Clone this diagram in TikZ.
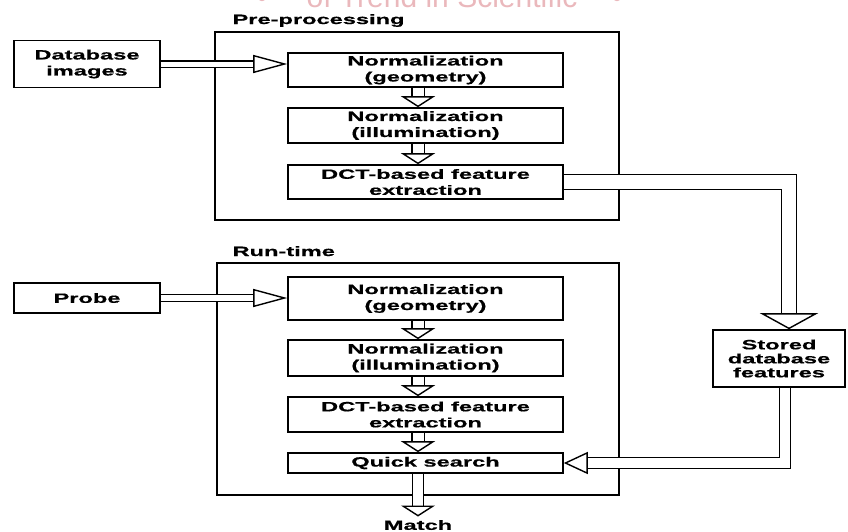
\documentclass[tikz,border=0pt]{standalone}
\usepackage{fontspec}
\newfontfamily\diagfont{Liberation Sans Bold}[FakeStretch=1.75, FakeBold=0.6]
\newfontfamily\markfont{Liberation Sans}
\newcommand\boxfont{\fontsize{13.5}{16}\selectfont\diagfont}
\usetikzlibrary{arrows.meta, positioning}
\definecolor{markpink}{RGB}{234,184,188}

\tikzset{
	stage/.style={draw, line width=1.6pt, align=center, inner sep=0pt, font=\boxfont},
	panel/.style={draw, line width=1.8pt, inner sep=0pt},
	pipe/.style={double, double distance=#1, line width=1.4pt},
	sidehead/.style={-{Triangle[open, length=34pt, width=18pt, line width=1.4pt]}},
	downhead/.style={-{Triangle[open, length=11pt, width=34pt, line width=1.4pt]}}
}

\begin{document}
\begin{tikzpicture}[x=1pt, y=-1pt]
	\useasboundingbox (0,0) rectangle (848,531);

	% faint watermark, cut by the top edge
	\node[text=markpink, font=\markfont\fontsize{30}{30}\selectfont, anchor=base] (mark) at (442,7) {of Trend in Scientific};
	\node[text=markpink, font=\markfont\fontsize{30}{30}\selectfont, anchor=base] (markl) at (262,7) {•};
	\node[text=markpink, font=\markfont\fontsize{30}{30}\selectfont, anchor=base] (markr) at (617,7) {•};

	% the two stages
	\node[panel, minimum width=404pt, minimum height=188pt] (pre) at (417,126) {};
	\node[panel, minimum width=402pt, minimum height=232pt] (run) at (418,379) {};
	\node[anchor=base west, font=\boxfont] (prelabel) at (229,24) {Pre-processing};
	\node[anchor=base west, font=\boxfont] (runlabel) at (229,256) {Run-time};

	% pre-processing chain
	\node[stage, minimum width=146pt, minimum height=47pt] (dbimg) at (87,64) {Database\\images};
	\node[stage, minimum width=275pt, minimum height=34pt] (pgeo) at (425.5,70) {Normalization\\(geometry)};
	\node[stage, minimum width=275pt, minimum height=35pt] (pill) at (425.5,125.5) {Normalization\\(illumination)};
	\node[stage, minimum width=275pt, minimum height=34pt] (pdct) at (425.5,182) {DCT-based feature\\extraction};

	% run-time chain
	\node[stage, minimum width=146pt, minimum height=30pt] (probe) at (87,298) {Probe};
	\node[stage, minimum width=275pt, minimum height=43pt] (rgeo) at (425.5,298.5) {Normalization\\(geometry)};
	\node[stage, minimum width=275pt, minimum height=36pt] (rill) at (425.5,358) {Normalization\\(illumination)};
	\node[stage, minimum width=275pt, minimum height=35pt] (rdct) at (425.5,414.5) {DCT-based feature\\extraction};
	\node[stage, minimum width=275pt, minimum height=20pt] (quick) at (425.5,463) {Quick search};
	\node[font=\boxfont] (match) at (418,525) {Match};

	\node[stage, minimum width=132pt, minimum height=57pt] (store) at (779,358.5) {Stored\\[-2pt]database\\[-2pt]features};

	% connectors
	\draw[pipe=5pt, sidehead] (dbimg.east) -- (dbimg.east -| pgeo.west);
	\draw[pipe=6pt, sidehead] (probe.east) -- (probe.east -| rgeo.west);
	\draw[pipe=11pt, downhead] ([xshift=-7.5pt]pgeo.south) -- ([xshift=-7.5pt]pill.north);
	\draw[pipe=11pt, downhead] ([xshift=-7.5pt]pill.south) -- ([xshift=-7.5pt]pdct.north);
	\draw[pipe=11pt, downhead] ([xshift=-7.5pt]rgeo.south) -- ([xshift=-7.5pt]rill.north);
	\draw[pipe=11pt, downhead] ([xshift=-7.5pt]rill.south) -- ([xshift=-7.5pt]rdct.north);
	\draw[pipe=11pt, downhead] ([xshift=-7.5pt]rdct.south) -- ([xshift=-7.5pt]quick.north);
	\draw[pipe=10pt, downhead] ([xshift=-7.5pt]quick.south) -- (match.north);
	\draw[pipe=14pt, -{Triangle[open, length=16pt, width=58pt, line width=1.4pt]}] (pdct.east) -| ([xshift=10pt]store.north);
	\draw[pipe=10pt, -{Triangle[open, length=24pt, width=22pt, line width=1.4pt]}] ([xshift=6pt]store.south) |- (quick.east);
\end{tikzpicture}
\end{document}
